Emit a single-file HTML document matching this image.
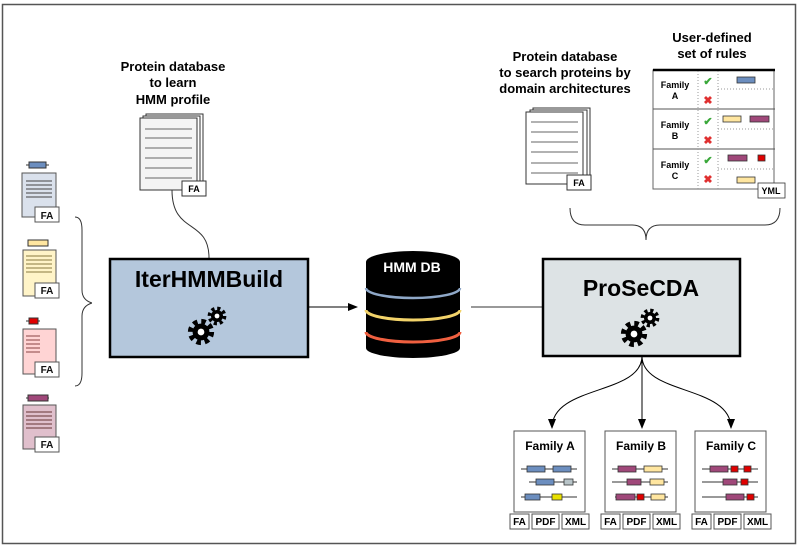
<!DOCTYPE html>
<html><head><meta charset="utf-8"><style>
html,body{margin:0;padding:0;background:#fff}
svg{display:block}
text{font-family:"Liberation Sans",Arial,sans-serif;font-weight:bold}
</style></head><body>
<svg width="800" height="549" viewBox="0 0 800 549" xmlns="http://www.w3.org/2000/svg">
<defs>
<marker id="ah" markerWidth="10" markerHeight="10" refX="9" refY="5" orient="auto" markerUnits="userSpaceOnUse">
<path d="M0,1 L10,5 L0,9 z" fill="#000"/></marker>
<g id="gear">
<circle r="10" fill="none" stroke="#000" stroke-width="5" stroke-dasharray="4.2 3.65"/>
<circle r="8" fill="#000"/>
<circle r="3.2" fill="#fff"/>
</g>
<g id="gears">
<use href="#gear" transform="translate(0,8) scale(1.05)"/>
<use href="#gear" transform="translate(16,-8) scale(0.75)"/>
</g>
</defs>
<rect x="2.5" y="4.5" width="793" height="539" fill="#fff" stroke="#555" stroke-width="1.5"/>

<!-- left docs -->
<g stroke="#333" stroke-width="1">
<!-- doc1 -->
<line x1="26" y1="165" x2="49" y2="165"/><rect x="29" y="162" width="17" height="6" fill="#6c8ebf"/>
<rect x="22" y="173" width="34" height="44" fill="#dae1ec" stroke="#555"/>
<g stroke="#444"><line x1="26" y1="181" x2="52" y2="181"/><line x1="26" y1="185" x2="52" y2="185"/><line x1="26" y1="189" x2="52" y2="189"/><line x1="26" y1="193" x2="52" y2="193"/><line x1="26" y1="197" x2="52" y2="197"/></g>
<rect x="35" y="207" width="24" height="15" fill="#fff" stroke="#555"/>
<!-- doc2 -->
<rect x="28" y="240" width="20" height="6" fill="#ffe6a0"/>
<rect x="23" y="250" width="33" height="46" fill="#fff4c8" stroke="#555"/>
<g stroke="#8a7a40"><line x1="26" y1="256" x2="52" y2="256"/><line x1="26" y1="260" x2="52" y2="260"/><line x1="26" y1="264" x2="52" y2="264"/><line x1="26" y1="268" x2="52" y2="268"/><line x1="26" y1="272" x2="52" y2="272"/></g>
<rect x="35" y="283" width="24" height="15" fill="#fff" stroke="#555"/>
<!-- doc3 -->
<line x1="26" y1="321" x2="40" y2="321"/><rect x="29" y="318" width="9" height="6" fill="#e00000"/>
<rect x="23" y="329" width="33" height="45" fill="#ffd4d4" stroke="#555"/>
<g stroke="#844"><line x1="26" y1="336" x2="40" y2="336"/><line x1="26" y1="340" x2="40" y2="340"/><line x1="26" y1="344" x2="40" y2="344"/><line x1="26" y1="348" x2="40" y2="348"/><line x1="26" y1="352" x2="40" y2="352"/></g>
<rect x="35" y="362" width="24" height="15" fill="#fff" stroke="#555"/>
<!-- doc4 -->
<line x1="26" y1="398" x2="49" y2="398"/><rect x="28" y="395" width="20" height="6" fill="#a0487a"/>
<rect x="23" y="405" width="33" height="44" fill="#e0bfcc" stroke="#555"/>
<g stroke="#633"><line x1="26" y1="412" x2="52" y2="412"/><line x1="26" y1="416" x2="52" y2="416"/><line x1="26" y1="420" x2="52" y2="420"/><line x1="26" y1="424" x2="52" y2="424"/><line x1="26" y1="428" x2="52" y2="428"/></g>
<rect x="35" y="437" width="24" height="15" fill="#fff" stroke="#555"/>
</g>
<g font-size="10" fill="#111" text-anchor="middle">
<text x="47" y="219">FA</text><text x="47" y="294">FA</text><text x="47" y="373">FA</text><text x="47" y="448">FA</text>
</g>
<!-- left brace -->
<path d="M75,217 Q82,217 82,230 L82,290 Q82,300 92,303 Q82,306 82,316 L82,373 Q82,386 75,386" fill="none" stroke="#333" stroke-width="1"/>
<line x1="92" y1="303" x2="109" y2="303" stroke="#fff"/>

<!-- top left text & doc -->
<g font-size="13" text-anchor="middle" fill="#000">
<text x="173" y="71">Protein database</text><text x="173" y="87">to learn</text><text x="173" y="104">HMM profile</text>
</g>
<g stroke="#333" stroke-width="1">
<rect x="146" y="114" width="57" height="72" fill="#fff"/>
<rect x="143" y="116" width="57" height="72" fill="#fff"/>
<rect x="140" y="118" width="57" height="72" fill="#f4f4f4"/>
<g stroke="#666"><line x1="145" y1="129" x2="192" y2="129"/><line x1="145" y1="138" x2="192" y2="138"/><line x1="145" y1="148" x2="192" y2="148"/><line x1="145" y1="158" x2="192" y2="158"/><line x1="145" y1="168" x2="192" y2="168"/><line x1="145" y1="178" x2="192" y2="178"/></g>
<rect x="182" y="181" width="24" height="15" fill="#fff"/>
</g>
<text x="194" y="192" font-size="9" text-anchor="middle">FA</text>
<path d="M172,190 C172,235 209,218 209,258" fill="none" stroke="#333" stroke-width="1"/>

<!-- IterHMMBuild -->
<rect x="110" y="259" width="198" height="98" fill="#b4c7dc" stroke="#000" stroke-width="2.5"/>
<text x="209" y="287" font-size="23" text-anchor="middle">IterHMMBuild</text>
<use href="#gears" transform="translate(201,324)"/>

<line x1="308" y1="307" x2="357" y2="307" stroke="#000" stroke-width="1" marker-end="url(#ah)"/>

<!-- HMM DB -->
<path d="M366,262 L366,348 A47,10 0 0 0 460,348 L460,262 Z" fill="#000"/>
<ellipse cx="413" cy="262" rx="47" ry="11" fill="#000"/>
<path d="M366,288 A47,10 0 0 0 460,288" fill="none" stroke="#8fa8c8" stroke-width="2.5"/>
<path d="M366,310 A47,10 0 0 0 460,310" fill="none" stroke="#f2d36a" stroke-width="3"/>
<path d="M366,332 A47,10 0 0 0 460,332" fill="none" stroke="#f06040" stroke-width="3"/>
<text x="412" y="272" font-size="14" fill="#fff" text-anchor="middle">HMM DB</text>

<line x1="471" y1="307" x2="543" y2="307" stroke="#333" stroke-width="1"/>

<!-- ProSeCDA -->
<rect x="543" y="259" width="197" height="97" fill="#dde3e5" stroke="#000" stroke-width="2.5"/>
<text x="641" y="296" font-size="23" text-anchor="middle">ProSeCDA</text>
<use href="#gears" transform="translate(634,326)"/>

<!-- right text -->
<g font-size="13" text-anchor="middle" fill="#000">
<text x="565" y="61">Protein database</text><text x="565" y="77">to search proteins by</text><text x="565" y="93">domain architectures</text>
<text x="712" y="42">User-defined</text><text x="712" y="58">set of rules</text>
</g>
<!-- right doc -->
<g stroke="#333" stroke-width="1">
<rect x="533" y="108" width="57" height="72" fill="#fff"/>
<rect x="530" y="110" width="57" height="72" fill="#fff"/>
<rect x="526" y="112" width="57" height="72" fill="#fff"/>
<g stroke="#666"><line x1="531" y1="122" x2="578" y2="122"/><line x1="531" y1="132" x2="578" y2="132"/><line x1="531" y1="142" x2="578" y2="142"/><line x1="531" y1="152" x2="578" y2="152"/><line x1="531" y1="163" x2="578" y2="163"/><line x1="531" y1="173" x2="578" y2="173"/></g>
<rect x="567" y="175" width="24" height="15" fill="#fff"/>
</g>
<text x="579" y="186" font-size="9" text-anchor="middle">FA</text>

<!-- rules table -->
<rect x="653" y="70" width="121" height="119" fill="#fff" stroke="#666" stroke-width="1"/>
<line x1="653" y1="70" x2="775" y2="70" stroke="#000" stroke-width="2.5"/>
<g stroke="#555" stroke-width="1"><line x1="653" y1="109" x2="775" y2="109"/><line x1="653" y1="149" x2="775" y2="149"/></g>
<g stroke="#999" stroke-dasharray="1 2"><line x1="698" y1="71" x2="698" y2="189"/><line x1="718" y1="71" x2="718" y2="189"/>
<line x1="718" y1="89" x2="775" y2="89"/><line x1="718" y1="129" x2="775" y2="129"/><line x1="718" y1="169" x2="775" y2="169"/></g>
<g font-size="9" text-anchor="middle"><text x="675" y="88">Family</text><text x="675" y="99">A</text><text x="675" y="128">Family</text><text x="675" y="139">B</text><text x="675" y="168">Family</text><text x="675" y="179">C</text></g>
<g font-size="11" text-anchor="middle"><text x="708" y="85" fill="#3aa83a">✔</text><text x="708" y="125" fill="#3aa83a">✔</text><text x="708" y="164" fill="#3aa83a">✔</text>
<text x="708" y="104" fill="#e03030">✖</text><text x="708" y="144" fill="#e03030">✖</text><text x="708" y="183" fill="#e03030">✖</text></g>
<g stroke="#333" stroke-width="0.8">
<rect x="737" y="77" width="18" height="6" fill="#6c8ebf"/>
<rect x="723" y="116" width="18" height="6" fill="#ffe6a0"/><rect x="750" y="116" width="19" height="6" fill="#a0487a"/>
<rect x="728" y="155" width="19" height="6" fill="#a0487a"/><rect x="758" y="155" width="7" height="6" fill="#e00000"/>
<rect x="737" y="177" width="18" height="6" fill="#ffe6a0"/>
<rect x="758" y="183" width="27" height="15" fill="#fff"/>
</g>
<text x="771" y="194" font-size="9" text-anchor="middle">YML</text>

<!-- right brace -->
<path d="M570,208 Q570,225 585,225 L632,225 Q646,225 646,240 Q646,225 660,225 L765,225 Q780,225 780,208" fill="none" stroke="#333" stroke-width="1"/>

<!-- output arrows -->
<g fill="none" stroke="#000" stroke-width="1">
<path d="M642,356 C642,395 552,385 552,428" marker-end="url(#ah)"/>
<path d="M642,356 L642,428" marker-end="url(#ah)"/>
<path d="M642,356 C642,395 731,385 731,428" marker-end="url(#ah)"/>
</g>

<!-- family boxes -->
<g stroke="#555" stroke-width="1" fill="#fff">
<rect x="514" y="431" width="71" height="81"/><rect x="605" y="431" width="71" height="81"/><rect x="695" y="431" width="71" height="81"/>
</g>
<g font-size="12" text-anchor="middle"><text x="550" y="450">Family A</text><text x="641" y="450">Family B</text><text x="731" y="450">Family C</text></g>
<g stroke="#333" stroke-width="1">
<line x1="521" y1="469" x2="577" y2="469"/><line x1="529" y1="482" x2="577" y2="482"/><line x1="521" y1="497" x2="577" y2="497"/>
<line x1="612" y1="469" x2="668" y2="469"/><line x1="612" y1="482" x2="668" y2="482"/><line x1="615" y1="497" x2="668" y2="497"/>
<line x1="702" y1="469" x2="758" y2="469"/><line x1="702" y1="482" x2="758" y2="482"/><line x1="702" y1="497" x2="758" y2="497"/>
</g>
<g stroke="#333" stroke-width="0.8">
<rect x="527" y="466" width="18" height="6" fill="#6c8ebf"/><rect x="553" y="466" width="18" height="6" fill="#6c8ebf"/>
<rect x="536" y="479" width="18" height="6" fill="#6c8ebf"/><rect x="564" y="479" width="9" height="6" fill="#b8c4c8"/>
<rect x="525" y="494" width="15" height="6" fill="#6c8ebf"/><rect x="552" y="494" width="10" height="6" fill="#e8e000"/>
<rect x="618" y="466" width="18" height="6" fill="#a0487a"/><rect x="644" y="466" width="18" height="6" fill="#ffe6a0"/>
<rect x="627" y="479" width="14" height="6" fill="#a0487a"/><rect x="650" y="479" width="14" height="6" fill="#ffe6a0"/>
<rect x="616" y="494" width="19" height="6" fill="#a0487a"/><rect x="637" y="494" width="7" height="6" fill="#e00000"/><rect x="651" y="494" width="14" height="6" fill="#ffe6a0"/>
<rect x="710" y="466" width="18" height="6" fill="#a0487a"/><rect x="731" y="466" width="7" height="6" fill="#e00000"/><rect x="744" y="466" width="7" height="6" fill="#e00000"/>
<rect x="723" y="479" width="14" height="6" fill="#a0487a"/><rect x="741" y="479" width="7" height="6" fill="#e00000"/>
<rect x="726" y="494" width="18" height="6" fill="#a0487a"/><rect x="747" y="494" width="7" height="6" fill="#e00000"/>
</g>
<g stroke="#555" stroke-width="1" fill="#fff">
<rect x="510" y="514" width="19" height="15"/><rect x="532" y="514" width="27" height="15"/><rect x="562" y="514" width="27" height="15"/>
<rect x="601" y="514" width="19" height="15"/><rect x="623" y="514" width="27" height="15"/><rect x="653" y="514" width="27" height="15"/>
<rect x="692" y="514" width="19" height="15"/><rect x="714" y="514" width="27" height="15"/><rect x="744" y="514" width="27" height="15"/>
</g>
<g font-size="10" text-anchor="middle">
<text x="519.5" y="525">FA</text><text x="545.5" y="525">PDF</text><text x="575.5" y="525">XML</text>
<text x="610.5" y="525">FA</text><text x="636.5" y="525">PDF</text><text x="666.5" y="525">XML</text>
<text x="701.5" y="525">FA</text><text x="727.5" y="525">PDF</text><text x="757.5" y="525">XML</text>
</g>
</svg>
</body></html>
